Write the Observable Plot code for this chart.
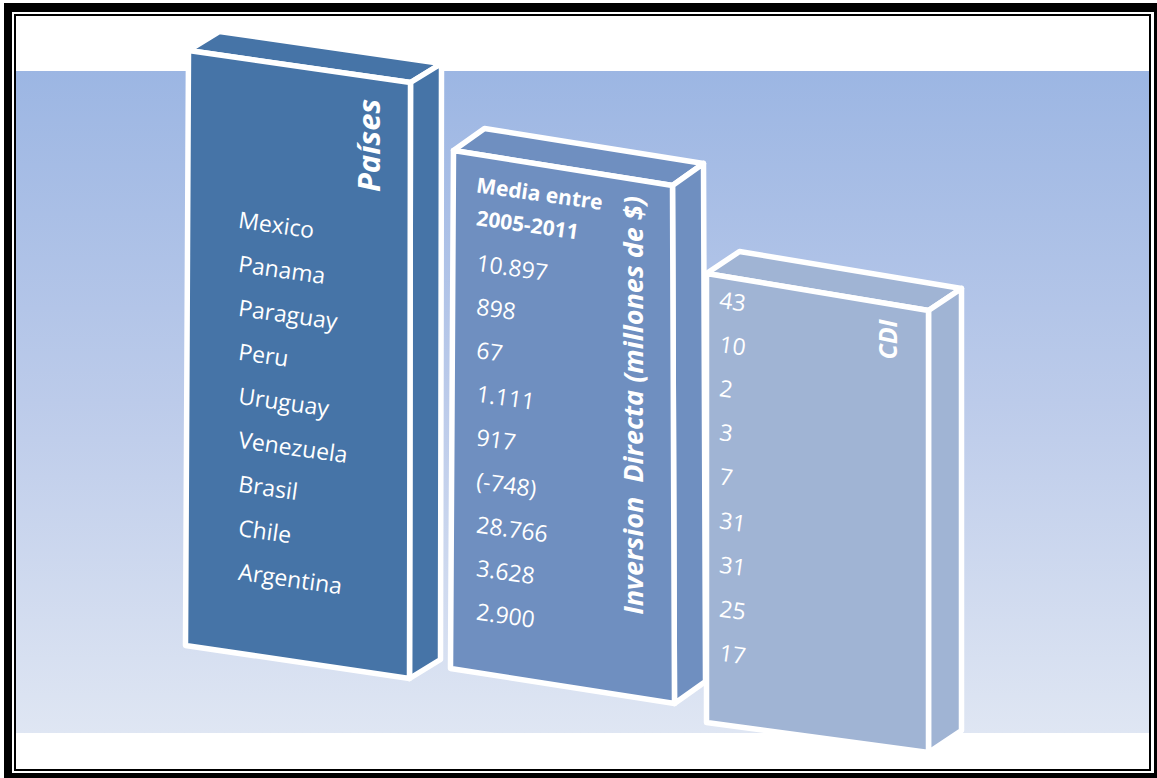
<!DOCTYPE html>
<html>
<head>
<meta charset="utf-8">
<script src="https://cdn.jsdelivr.net/npm/d3@7"></script>
<script src="https://cdn.jsdelivr.net/npm/@observablehq/plot@0.6"></script>
<style>
  html, body { margin: 0; padding: 0; background: #fff; }
  svg { display: block; }
</style>
</head>
<body>
<div id="chart"></div>
<script>
// ---- data ----
const countries = ["Mexico", "Panama", "Paraguay", "Peru", "Uruguay", "Venezuela", "Brasil", "Chile", "Argentina"];
const inversion = [10897, 898, 67, 1111, 917, -748, 28766, 3628, 2900];
const cdi = [43, 10, 2, 3, 7, 31, 31, 25, 17];
const headers = ["Países", "Inversion\u00a0 Directa (millones de $)", "CDI"];
const subheader = ["Media entre", "2005-2011"];

// ---- layout (geometry of the 3D boxes, not data) ----
const W = 1157, H = 778;
const FONT = "'Open Sans', 'Noto Sans', sans-serif";
const boxes = [
  {fill: "#4674a7", tl: [188, 50], tr: [410, 82], br: [409, 678], bl: [185, 645], d: [31, -19]},
  {fill: "#6f8fc0", tl: [453, 150], tr: [672, 185], br: [674, 703], bl: [450, 668], d: [31, -22]},
  {fill: "#a0b4d4", tl: [706, 273], tr: [928, 310], br: [928, 752], bl: [706, 722], d: [33, -22]}
];
const columns = [
  {x: 238, y0: 220, step: 44.0},
  {x: 476, y0: 263, step: 43.6},
  {x: 719, y0: 300, step: 44.1}
];
const titlePos = [
  {x: 370, y: 145, size: 31},
  {x: 634, y: 405, size: 27},
  {x: 888, y: 339, size: 25}
];

const es = d3.formatLocale({decimal: ",", thousands: ".", grouping: [3], currency: ["$", ""], minus: "-"});
const fmt = es.format(",d");
const fmtInv = v => v < 0 ? `(${fmt(v)})` : fmt(v);

// faces as polygons
const add = (p, d) => [p[0] + d[0], p[1] + d[1]];
const faces = [];
boxes.forEach((b, bi) => {
  const polys = [
    ["top", [b.tl, add(b.tl, b.d), add(b.tr, b.d), b.tr]],
    ["side", [b.tr, add(b.tr, b.d), add(b.br, b.d), b.br]],
    ["front", [b.tl, b.tr, b.br, b.bl]]
  ];
  polys.forEach(([name, pts]) => {
    pts.forEach(([x, y]) => faces.push({id: `${bi}-${name}`, x, y, fill: b.fill}));
  });
});

// text rows
const rows = [];
countries.forEach((c, i) => rows.push({col: 0, i, label: c}));
inversion.forEach((v, i) => rows.push({col: 1, i, label: fmtInv(v)}));
cdi.forEach((v, i) => rows.push({col: 2, i, label: String(v)}));
rows.forEach(r => { const c = columns[r.col]; r.x = c.x; r.y = c.y0 + c.step * r.i; });

const subRows = subheader.map((s, i) => ({label: s, x: columns[1].x, y: 185 + 33 * i}));
const titles = headers.map((h, i) => ({label: h, ...titlePos[i]}));

const frameRects = [
  {x1: 4, x2: W + 6, y1: 3, y2: H + 6, fill: "black"},
  {x1: 12, x2: 1154, y1: 12, y2: 773, fill: "white"}
];

const defs = () => {
  const g = d3.create("svg:defs");
  const lg = g.append("linearGradient").attr("id", "bggrad").attr("x1", 0).attr("y1", 0).attr("x2", 0).attr("y2", 1);
  lg.append("stop").attr("offset", "0%").attr("stop-color", "#9cb6e3");
  lg.append("stop").attr("offset", "50%").attr("stop-color", "#bccbea");
  lg.append("stop").attr("offset", "100%").attr("stop-color", "#dfe6f3");
  return g.node();
};

const plot = Plot.plot({
  width: W,
  height: H,
  margin: 0,
  x: {domain: [0, W], range: [0, W], axis: null},
  y: {domain: [0, H], range: [0, H], axis: null},
  style: {background: "white", fontFamily: FONT},
  marks: [
    defs,
    Plot.rect(frameRects, {x1: "x1", x2: "x2", y1: "y1", y2: "y2", fill: "fill"}),
    Plot.rect([{x1: 15, x2: 1150, y1: 15, y2: 770}], {x1: "x1", x2: "x2", y1: "y1", y2: "y2", fill: "none", stroke: "black", strokeWidth: 2}),
    Plot.rect([{x1: 16, x2: 1149, y1: 71, y2: 733}], {x1: "x1", x2: "x2", y1: "y1", y2: "y2", fill: "url(#bggrad)"}),
    Plot.line(faces, {x: "x", y: "y", z: "id", fill: "fill", stroke: "white", strokeWidth: 5.5, strokeLinejoin: "round", curve: "linear-closed"}),
    Plot.text(rows, {x: "x", y: "y", text: "label", textAnchor: "start", rotate: 8, fill: "white", fontSize: 23, fontFamily: FONT}),
    Plot.text(subRows, {x: "x", y: "y", text: "label", textAnchor: "start", rotate: 8, fill: "white", fontSize: 21, fontWeight: "bold", fontFamily: FONT}),
    Plot.text(titles, {x: "x", y: "y", text: "label", rotate: -90, fill: "white", fontSize: d => d.size, fontWeight: "bold", fontStyle: "italic", fontFamily: FONT})
  ]
});
document.getElementById("chart").append(plot);
</script>
</body>
</html>
